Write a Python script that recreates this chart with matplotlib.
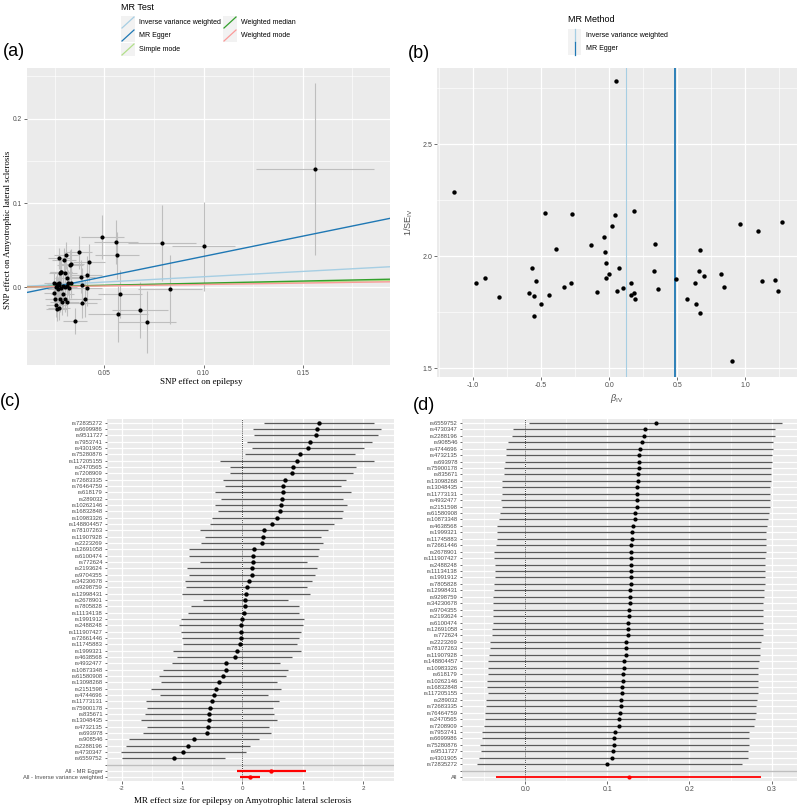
import matplotlib
matplotlib.use("Agg")
import matplotlib.pyplot as plt
import numpy as np
from matplotlib.patches import Rectangle

plt.rcParams['font.family'] = ['Liberation Sans', 'DejaVu Sans']
plt.rcParams['mathtext.fontset'] = 'custom'
plt.rcParams['mathtext.rm'] = 'Liberation Sans'
plt.rcParams['mathtext.it'] = 'Liberation Sans:italic'

# ── Data: per-SNP Wald ratios (forest order, top to bottom) ───────────────────
SNPS = ["rs72835272", "rs6699986", "rs9511727", "rs7953741", "rs4301905",
        "rs75280876", "rs117205155", "rs2470565", "rs7208909", "rs72683335",
        "rs76464759", "rs618179", "rs289032", "rs10262146", "rs16832848",
        "rs10983326", "rs148804457", "rs78107263", "rs11907928", "rs2223269",
        "rs12691058", "rs6100474", "rs772624", "rs2193624", "rs9704355",
        "rs34230678", "rs9298759", "rs12998431", "rs2678901", "rs7805828",
        "rs11134138", "rs1991912", "rs2488248", "rs111907427", "rs72661446",
        "rs11745883", "rs1999321", "rs4638568", "rs4932477", "rs10873348",
        "rs61580908", "rs13098268", "rs2151598", "rs4744696", "rs11773131",
        "rs75900178", "rs835671", "rs13048435", "rs4732135", "rs693978",
        "rs908546", "rs2288196", "rs4730347", "rs6559752"]

wald_b = [1.27, 1.24, 1.22, 1.12, 1.09, 0.96, 0.90, 0.84, 0.82, 0.70,
          0.67, 0.67, 0.66, 0.64, 0.63, 0.57, 0.49, 0.36, 0.34, 0.33,
          0.19, 0.18, 0.18, 0.16, 0.16, 0.10, 0.07, 0.06, 0.05, 0.04,
          0.02, 0.00, -0.02, -0.02, -0.03, -0.04, -0.09, -0.13, -0.27, -0.28,
          -0.33, -0.39, -0.44, -0.47, -0.50, -0.54, -0.55, -0.55, -0.57, -0.59,
          -0.81, -0.91, -0.98, -1.14]

inv_se = [2.152, 1.846, 1.894, 1.890, 2.112, 2.145, 1.530, 1.863, 1.918, 1.913,
          2.028, 1.745, 1.934, 1.787, 1.879, 1.810, 1.896, 1.851, 2.052, 1.933,
          1.810, 1.833, 2.203, 1.825, 1.882, 1.858, 1.946, 1.843, 2.780, 2.182,
          2.134, 1.918, 1.904, 1.969, 2.018, 2.085, 1.839, 2.048, 2.190, 1.882,
          1.861, 2.033, 1.828, 2.193, 1.784, 1.887, 1.822, 1.733, 1.945, 1.834,
          1.819, 1.904, 1.881, 2.285]

beta_exp = [0.0270, 0.0305, 0.0490, 0.0370, 0.0295, 0.0560, 0.1560, 0.0334, 0.0326, 0.0423,
            0.0564, 0.0790, 0.0280, 0.0275, 0.0282, 0.0300, 0.1000, 0.0410, 0.0310, 0.0380,
            0.0248, 0.0273, 0.0317, 0.0330, 0.0260, 0.0270, 0.0290, 0.0388, 0.0310, 0.0260,
            0.0300, 0.0255, 0.0280, 0.0410, 0.0830, 0.0320, 0.0265, 0.0580, 0.0248, 0.0290,
            0.0404, 0.0680, 0.0300, 0.0389, 0.0275, 0.0250, 0.0310, 0.0570, 0.0715, 0.0285,
            0.0258, 0.0273, 0.0260, 0.0354]

se_exp = [0.0055, 0.0060, 0.0110, 0.0070, 0.0060, 0.0110, 0.0297, 0.0065, 0.0065, 0.0080,
          0.0110, 0.0170, 0.0055, 0.0055, 0.0055, 0.0060, 0.0160, 0.0080, 0.0060, 0.0075,
          0.0050, 0.0055, 0.0060, 0.0065, 0.0050, 0.0055, 0.0058, 0.0075, 0.0060, 0.0050,
          0.0060, 0.0050, 0.0055, 0.0080, 0.0160, 0.0063, 0.0053, 0.0110, 0.0050, 0.0058,
          0.0080, 0.0140, 0.0060, 0.0075, 0.0055, 0.0050, 0.0060, 0.0150, 0.0145, 0.0057,
          0.0052, 0.0055, 0.0052, 0.0060]

# MR summary results
METHODS = ["Inverse variance weighted", "MR Egger", "Simple mode",
           "Weighted median", "Weighted mode"]
METHOD_COLORS = ["#a6cee3", "#1f78b4", "#b2df8a", "#33a02c", "#fb9a99"]
method_slope = [0.126, 0.480, 0.042, 0.050, 0.034]
method_icept = [0.0, -0.0113, 0.0, 0.0, 0.0]

summary_labels = ["All - MR Egger", "All - Inverse variance weighted"]
summary_b = [0.48, 0.126]
summary_lo = [-0.09, -0.036]
summary_hi = [1.06, 0.287]

# Leave-one-out (top to bottom)
LOO_SNPS = ["rs6559752", "rs4730347", "rs2288196", "rs908546", "rs4744696",
            "rs4732135", "rs693978", "rs75900178", "rs835671", "rs13098268",
            "rs13048435", "rs11773131", "rs4932477", "rs2151598", "rs61580908",
            "rs10873348", "rs4638568", "rs1999321", "rs11745883", "rs72661446",
            "rs2678901", "rs111907427", "rs2488248", "rs11134138", "rs1991912",
            "rs7805828", "rs12998431", "rs9298759", "rs34230678", "rs9704355",
            "rs2193624", "rs6100474", "rs12691058", "rs772624", "rs2223269",
            "rs78107263", "rs11907928", "rs148804457", "rs10983326", "rs618179",
            "rs10262146", "rs16832848", "rs117205155", "rs289032", "rs72683335",
            "rs76464759", "rs2470565", "rs7208909", "rs7953741", "rs6699986",
            "rs75280876", "rs9511727", "rs4301905", "rs72835272"]
loo_b = [0.159, 0.146, 0.145, 0.142, 0.140, 0.139, 0.138, 0.138, 0.137, 0.137,
         0.136, 0.136, 0.136, 0.136, 0.134, 0.133, 0.131, 0.130, 0.130, 0.129,
         0.129, 0.129, 0.129, 0.1286, 0.1286, 0.1286, 0.1274, 0.1274, 0.127, 0.126,
         0.1258, 0.1254, 0.1254, 0.125, 0.123, 0.1226, 0.1222, 0.1206, 0.1198, 0.119,
         0.1185, 0.118, 0.1177, 0.1165, 0.116, 0.1153, 0.114, 0.1137, 0.109, 0.108,
         0.1077, 0.1073, 0.105, 0.100]
loo_lo = [0.004, -0.015, -0.016, -0.021, -0.024, -0.024, -0.025, -0.026, -0.026, -0.028,
          -0.028, -0.028, -0.030, -0.028, -0.031, -0.032, -0.034, -0.035, -0.035, -0.036,
          -0.038, -0.038, -0.037, -0.037, -0.037, -0.038, -0.038, -0.039, -0.039, -0.040,
          -0.040, -0.040, -0.041, -0.041, -0.043, -0.043, -0.044, -0.046, -0.046, -0.046,
          -0.047, -0.047, -0.046, -0.048, -0.048, -0.049, -0.049, -0.050, -0.053, -0.053,
          -0.055, -0.054, -0.057, -0.059]
loo_hi = [0.313, 0.304, 0.304, 0.302, 0.302, 0.301, 0.300, 0.299, 0.299, 0.299,
          0.298, 0.298, 0.298, 0.298, 0.297, 0.296, 0.294, 0.293, 0.293, 0.293,
          0.293, 0.292, 0.292, 0.292, 0.292, 0.292, 0.291, 0.291, 0.290, 0.290,
          0.289, 0.289, 0.289, 0.289, 0.287, 0.286, 0.286, 0.285, 0.284, 0.283,
          0.283, 0.283, 0.283, 0.282, 0.281, 0.281, 0.280, 0.279, 0.273, 0.272,
          0.272, 0.271, 0.271, 0.264]
loo_all = [0.126, -0.036, 0.287]

# ── Derived quantities ────────────────────────────────────────────────────────
b = np.array(wald_b)
se_iv = 1 / np.array(inv_se)
bx = np.array(beta_exp)
by = b * bx
se_out = se_iv * bx

# ── Figure helpers ────────────────────────────────────────────────────────────
W, H = 800, 806
fig = plt.figure(figsize=(W / 100, H / 100), dpi=100)
TXT = "#4D4D4D"
SERIF = ["Liberation Serif", "DejaVu Serif"]


def rect(l, t, r, bt):
    return [l / W, 1 - bt / H, (r - l) / W, (bt - t) / H]


def gg_style(ax, xmaj, xmin, ymaj, ymin, tick_fs):
    ax.set_facecolor("#EBEBEB")
    for s in ax.spines.values():
        s.set_visible(False)
    ax.set_xticks(xmaj)
    ax.set_xticks(xmin, minor=True)
    ax.set_yticks(ymaj)
    ax.set_yticks(ymin, minor=True)
    ax.grid(which="major", color="white", linewidth=0.9, zorder=0)
    ax.grid(which="minor", color="white", linewidth=0.45, zorder=0)
    ax.set_axisbelow(True)
    ax.tick_params(which="major", length=2, width=0.5, color="#333333",
                   labelsize=tick_fs, labelcolor=TXT, pad=1.5)
    ax.tick_params(which="minor", length=0)


# ── (a) scatter ───────────────────────────────────────────────────────────────
axa = fig.add_axes(rect(27, 68, 390, 365))
gg_style(axa, [0.05, 0.10, 0.15], [0.025, 0.075, 0.125, 0.175],
         [0.0, 0.1, 0.2], [-0.05, 0.05, 0.15, 0.25], 4.8)
axa.set_xticklabels(["0.05", "0.10", "0.15"])
axa.set_yticklabels(["0.0", "0.1", "0.2"])
axa.set_xlim(0.011, 0.194)
axa.set_ylim(-0.092, 0.26)
axa.errorbar(bx, by, yerr=se_out, xerr=np.array(se_exp), fmt="none",
             ecolor="#BEBEBE", elinewidth=0.8, capsize=0, zorder=2)
axa.scatter(bx, by, s=9, color="black", zorder=4, linewidths=0)
xs = np.array([0.0, 0.25])
for slope, icept, col in zip(method_slope, method_icept, METHOD_COLORS):
    axa.plot(xs, icept + slope * xs, color=col, linewidth=1.0, zorder=3)
axa.set_xlabel("SNP effect on epilepsy", fontsize=6.5, family=SERIF, color="black")
axa.set_ylabel("SNP effect on Amyotrophic lateral sclerosis", fontsize=6.5,
               family=SERIF, color="black")
axa.xaxis.set_label_coords(0.48, -0.045)
axa.yaxis.set_label_coords(-0.042, 0.455)

# ── (b) funnel ────────────────────────────────────────────────────────────────
axb = fig.add_axes(rect(437, 68, 797, 377))
gg_style(axb, [-1.0, -0.5, 0.0, 0.5, 1.0], [-1.25, -0.75, -0.25, 0.25, 0.75, 1.25],
         [1.5, 2.0, 2.5], [1.75, 2.25, 2.75], 5)
axb.set_xticklabels(["-1.0", "-0.5", "0.0", "0.5", "1.0"])
axb.set_yticklabels(["1.5", "2.0", "2.5"])
axb.set_xlim(-1.265, 1.38)
axb.set_ylim(1.46, 2.84)
axb.scatter(b, inv_se, s=10, color="black", zorder=4, linewidths=0)
axb.axvline(summary_b[1], color=METHOD_COLORS[0], linewidth=0.8, zorder=3)
axb.axvline(summary_b[0], color=METHOD_COLORS[1], linewidth=1.3, zorder=3)
axb.set_xlabel(r"$\beta_{\mathrm{IV}}$", fontsize=6.5, color=TXT)
axb.set_ylabel(r"1/SE$_{\mathrm{IV}}$", fontsize=6.5, color=TXT)
axb.xaxis.set_label_coords(0.5, -0.05)
axb.yaxis.set_label_coords(-0.06, 0.5)

# ── (c) forest ────────────────────────────────────────────────────────────────
axc = fig.add_axes(rect(107, 419, 394, 781))
n = len(SNPS)
ypos_snp = np.arange(n + 3, 3, -1)          # 57 .. 4
ypos_sum = np.array([2, 1])
gg_style(axc, [-2, -1, 0, 1, 2], [-1.5, -0.5, 0.5, 1.5],
         list(ypos_snp) + [3] + list(ypos_sum), [], 4.5)
axc.set_xticklabels(["-2", "-1", "0", "1", "2"])
axc.set_yticklabels(SNPS + [""] + summary_labels, fontsize=4.2)
axc.tick_params(axis="y", length=1.5)
axc.set_xlim(-2.249, 2.515)
axc.set_ylim(0.4, n + 3.6)
axc.axvline(0, color="black", linestyle=(0, (1, 1.5)), linewidth=0.6, zorder=2)
axc.axhline(3, color="#BEBEBE", linewidth=1.0, zorder=1)
axc.hlines(ypos_snp, b - 1.96 * se_iv, b + 1.96 * se_iv, color="#5A5A5A",
           linewidth=0.9, zorder=2)
axc.scatter(b, ypos_snp, s=10, color="black", zorder=4, linewidths=0)
axc.hlines(ypos_sum, summary_lo, summary_hi, color="red", linewidth=1.6, zorder=2)
axc.scatter(summary_b, ypos_sum, s=10, color="red", zorder=4, linewidths=0)
axc.set_xlabel("MR effect size for epilepsy on Amyotrophic lateral sclerosis",
               fontsize=6.5, family=SERIF, color="black")
axc.xaxis.set_label_coords(0.474, -0.045)

# ── (d) leave-one-out ─────────────────────────────────────────────────────────
axd = fig.add_axes(rect(462, 419, 797, 781))
m = len(LOO_SNPS)
ypos_loo = np.arange(m + 2, 2, -1)          # 56 .. 3
gg_style(axd, [0.0, 0.1, 0.2, 0.3], [-0.05, 0.05, 0.15, 0.25],
         list(ypos_loo) + [2, 1], [], 5)
axd.set_xticklabels(["0.0", "0.1", "0.2", "0.3"])
axd.set_yticklabels(LOO_SNPS + ["", "All"], fontsize=4.2)
axd.tick_params(axis="y", length=1.5)
axd.set_xlim(-0.0772, 0.331)
axd.set_ylim(0.4, m + 2.6)
axd.axvline(0, color="black", linestyle=(0, (1, 1.5)), linewidth=0.6, zorder=2)
axd.axhline(2, color="#BEBEBE", linewidth=1.0, zorder=1)
axd.hlines(ypos_loo, loo_lo, loo_hi, color="#5A5A5A", linewidth=0.9, zorder=2)
axd.scatter(loo_b, ypos_loo, s=9, color="black", zorder=4, linewidths=0)
axd.hlines([1], [loo_all[1]], [loo_all[2]], color="red", linewidth=1.3, zorder=2)
axd.scatter([loo_all[0]], [1], s=9, color="red", zorder=4, linewidths=0)

# ── Overlay: panel tags and legends (pixel coordinates) ───────────────────────
ov = fig.add_axes([0, 0, 1, 1], zorder=10)
ov.set_xlim(0, W)
ov.set_ylim(H, 0)
ov.axis("off")

for tag, x, y in [("(a)", 3, 52), ("(b)", 408, 53), ("(c)", 0, 401), ("(d)", 413, 405)]:
    ov.text(x, y, tag, fontsize=13, ha="left", va="center", color="black")

# legend (a)
ov.text(121, 8, "MR Test", fontsize=6.5, ha="left", va="center", color="black")
leg_pos = [(121, 16), (121, 29), (121, 43), (223, 16), (223, 29)]
for (kx, ky), lab, col in zip(leg_pos, METHODS, METHOD_COLORS):
    ov.add_patch(Rectangle((kx, ky), 14, 13, facecolor="#F2F2F2", edgecolor="none"))
    ov.plot([kx + 1, kx + 13], [ky + 12, ky + 1], color=col, linewidth=0.9)
    ov.text(kx + 18, ky + 6.5, lab, fontsize=5, ha="left", va="center", color="black")

# legend (b)
ov.text(568, 20, "MR Method", fontsize=6.5, ha="left", va="center", color="black")
for ky, lab, col in zip([29, 42], METHODS[:2], METHOD_COLORS[:2]):
    ov.add_patch(Rectangle((568, ky), 13, 13, facecolor="#F2F2F2", edgecolor="none"))
    ov.plot([574.5, 574.5], [ky, ky + 13], color=col, linewidth=0.9)
    ov.text(586, ky + 6.5, lab, fontsize=5, ha="left", va="center", color="black")

fig.savefig("out.png", dpi=100)
